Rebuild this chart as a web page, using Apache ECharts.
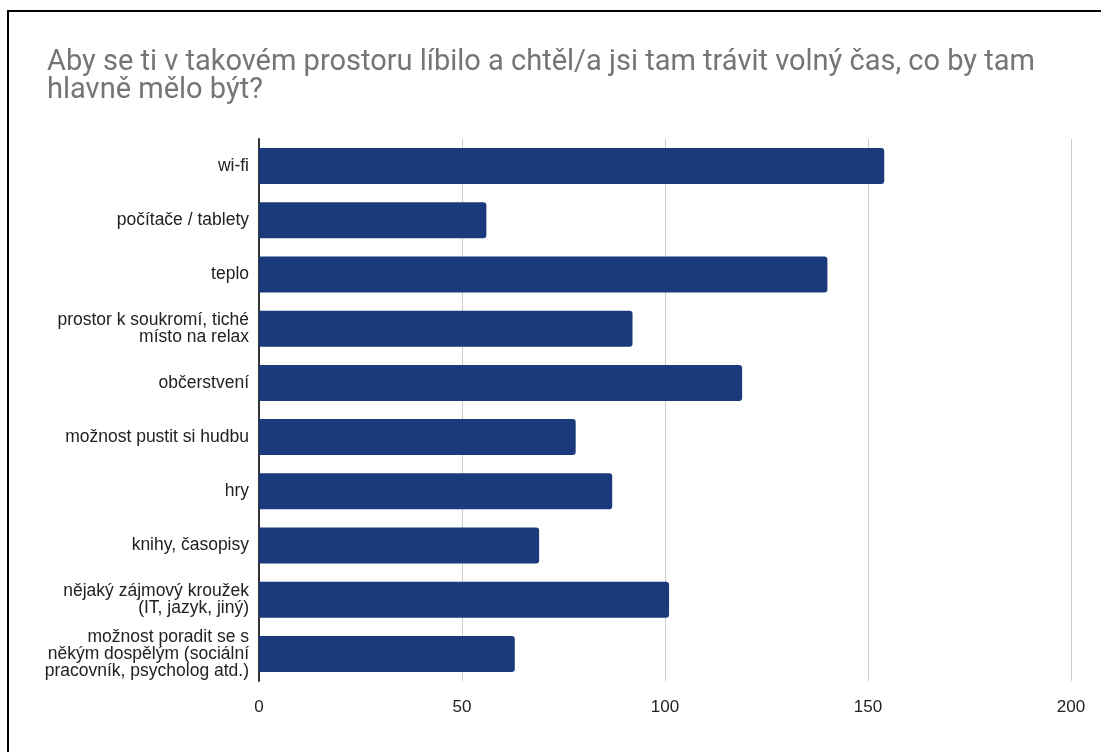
<!DOCTYPE html>
<html>
<head>
<meta charset="utf-8">
<script src="https://cdn.jsdelivr.net/npm/echarts@6/dist/echarts.min.js"></script>
<style>
  body { margin: 0; background: #fff; }
  #chart { position: absolute; left: 0; top: 0; width: 1101px; height: 752px; }
  #frame { position: absolute; left: 7px; top: 10px; width: 1200px; height: 900px; border: 2px solid #000; pointer-events: none; }
</style>
</head>
<body>
<div id="chart"></div>
<div id="frame"></div>
<script>
const titleText = 'Aby se ti v takovém prostoru líbilo a chtěl/a jsi tam trávit volný čas, co by tam\nhlavně mělo být?'
const categories = [
  'wi-fi',
  'počítače / tablety',
  'teplo',
  'prostor k soukromí, tiché\nmísto na relax',
  'občerstvení',
  'možnost pustit si hudbu',
  'hry',
  'knihy, časopisy',
  'nějaký zájmový kroužek\n(IT, jazyk, jiný)',
  'možnost poradit se s\nněkým dospělým (sociální\npracovník, psycholog atd.)'
]
const counts = [154, 56, 140, 92, 119, 78, 87, 69, 101, 63]
const xTicks = [0, 50, 100, 150, 200]

const chart = echarts.init(document.getElementById('chart'))
const option = {
  animation: false,
  title: {
    text: titleText,
    left: 42,
    top: 44,
    textStyle: {
      fontFamily: 'Roboto',
      fontWeight: 'normal',
      fontSize: 29,
      lineHeight: 28,
      color: '#757575'
    }
  },
  grid: {
    left: 259,
    right: 30,
    top: 139,
    bottom: 71,
    containLabel: false
  },
  xAxis: {
    type: 'value',
    min: xTicks[0],
    max: xTicks[xTicks.length - 1],
    interval: 50,
    axisLine: { show: false },
    axisTick: { show: false },
    splitLine: { lineStyle: { color: '#cccccc', width: 1 } },
    axisLabel: {
      margin: 18,
      fontFamily: 'Liberation Sans',
      fontSize: 17,
      color: '#222'
    }
  },
  yAxis: {
    type: 'category',
    inverse: true,
    data: categories,
    axisTick: { show: false },
    axisLine: { lineStyle: { color: '#333', width: 2 } },
    axisLabel: {
      margin: 10,
      fontFamily: 'Liberation Sans',
      fontSize: 17.5,
      lineHeight: 17,
      color: '#222'
    }
  },
  series: [{
    type: 'bar',
    data: counts,
    barWidth: 36,
    itemStyle: {
      color: '#1b3a7b',
      borderRadius: [0, 3, 3, 0]
    }
  }]
}
chart.setOption(option)
</script>
</body>
</html>
